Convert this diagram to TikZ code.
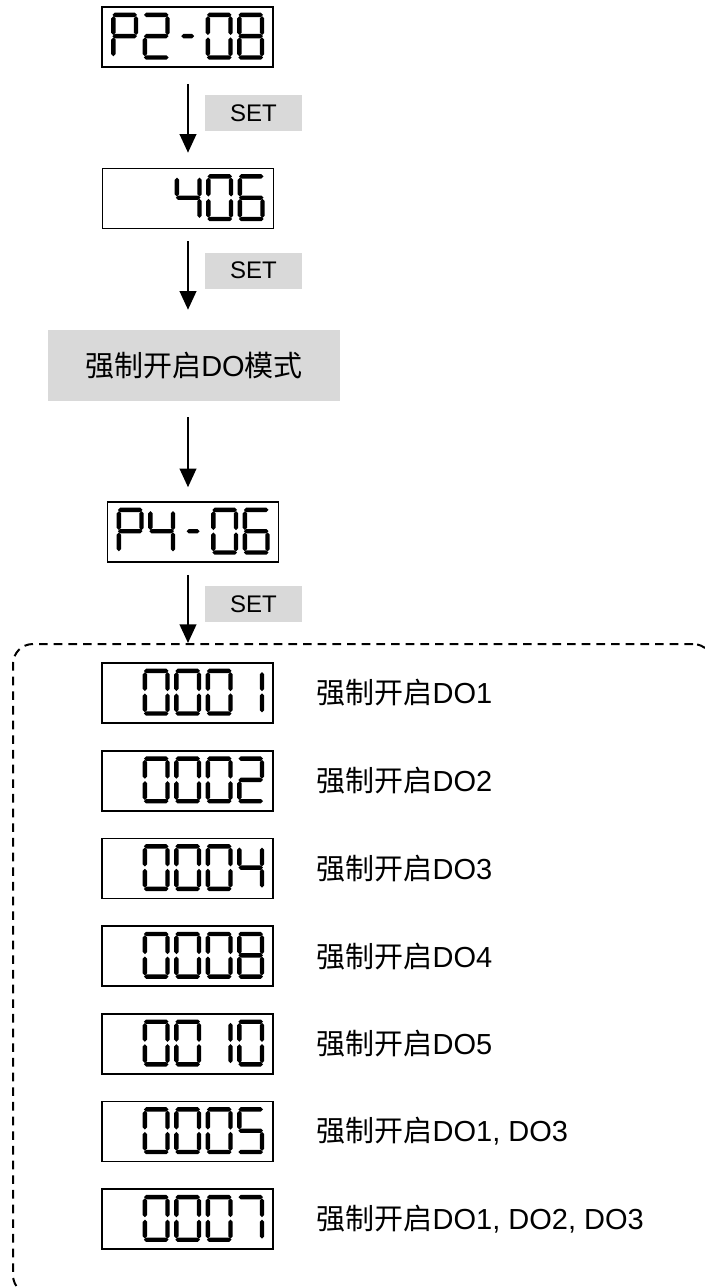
\documentclass[tikz,border=0pt]{standalone}
\usepackage{fontspec}
\setmainfont{Liberation Sans}
\newfontfamily\cjk{Noto Sans CJK SC}
\usetikzlibrary{arrows.meta, positioning}

\definecolor{keygray}{HTML}{D9D9D9}
\newcommand\zh[1]{{\cjk #1}}

% seven-segment geometry (in px of the picture)
\def\segt{2.2}\def\segw{27}\def\segh{47}\def\segg{1.2}
\newcommand\lcdh[3]{\fill (#1,#3) -- (#1+\segt,#3-\segt) -- (#2-\segt,#3-\segt) -- (#2,#3) -- (#2-\segt,#3+\segt) -- (#1+\segt,#3+\segt) -- cycle;}
\newcommand\lcdv[3]{\fill (#1,#2) -- (#1+\segt,#2+\segt) -- (#1+\segt,#3-\segt) -- (#1,#3) -- (#1-\segt,#3-\segt) -- (#1-\segt,#2+\segt) -- cycle;}
\newcommand\lcdsega{\lcdh{\segg}{\segw-\segg}{\segt}}
\newcommand\lcdsegb{\lcdv{\segw-\segt}{\segt+\segg}{\segh/2-\segg}}
\newcommand\lcdsegc{\lcdv{\segw-\segt}{\segh/2+\segg}{\segh-\segt-\segg}}
\newcommand\lcdsegd{\lcdh{\segg}{\segw-\segg}{\segh-\segt}}
\newcommand\lcdsege{\lcdv{\segt}{\segh/2+\segg}{\segh-\segt-\segg}}
\newcommand\lcdsegf{\lcdv{\segt}{\segt+\segg}{\segh/2-\segg}}
\newcommand\lcdsegg{\lcdh{\segg}{\segw-\segg}{\segh/2}}
\newcommand\lcdsegm{\lcdh{7}{\segw-7}{\segh/2}}

% digits as segment lists
\def\lcdBlank{x}
\def\lcdZero{a,b,c,d,e,f}
\def\lcdOne{b,c}
\def\lcdTwo{a,b,g,e,d}
\def\lcdFour{f,g,b,c}
\def\lcdFive{a,f,g,c,d}
\def\lcdSix{a,f,g,e,c,d}
\def\lcdSeven{a,b,c}
\def\lcdEight{a,b,c,d,e,f,g}
\def\lcdP{a,b,f,g,e}
\def\lcdDash{m}

% one digit in slot #2 of display #1
\newcommand\lcddigit[3]{%
  \begin{scope}[shift={(#1.north west)}, shift={(10+#2*31.5,6.5)}]
    \foreach \s in #3 {\csname lcdseg\s\endcsname}
  \end{scope}}
% display: name, position, five slots
\newcommand\showlcd[7]{%
  \node[display] (#1) at #2 {};
  \lcddigit{#1}{0}{#3}\lcddigit{#1}{1}{#4}\lcddigit{#1}{2}{#5}%
  \lcddigit{#1}{3}{#6}\lcddigit{#1}{4}{#7}}

\begin{document}
\begin{tikzpicture}[
    x=0.75pt, y=-0.75pt,
    % Styles
    display/.style={
        rectangle, draw, line width=1.2pt, inner sep=0pt,
        minimum width=128.25pt, minimum height=45pt
    },
    setkey/.style={
        rectangle, fill=keygray, inner sep=0pt,
        minimum width=72.75pt, minimum height=27pt,
        font=\fontsize{18}{20}\selectfont
    },
    modebox/.style={
        rectangle, fill=keygray, inner sep=0pt,
        minimum width=219pt, minimum height=53.25pt,
        font=\fontsize{21.75}{24}\selectfont
    },
    remark/.style={
        inner sep=0pt, font=\fontsize{21.75}{24}\selectfont
    },
    frame/.style={
        rectangle, draw, line width=1.5pt, dash pattern=on 6.5pt off 4.5pt,
        rounded corners=15pt, inner sep=0pt,
        minimum width=525pt, minimum height=488.25pt
    },
    flow/.style={
        -{Triangle[length=14pt, width=12.5pt]}, line width=1.5pt
    }
]
\useasboundingbox (0,0) rectangle (704,1288);

% ── Parameter selection ─────────────────────────────────────────────────────
\showlcd{p208}{(187.5,37)}{\lcdP}{\lcdTwo}{\lcdDash}{\lcdZero}{\lcdEight}
\showlcd{v406}{(188,198.5)}{\lcdBlank}{\lcdBlank}{\lcdFour}{\lcdZero}{\lcdSix}
\node[modebox] (mode) at (194,365.5) {\zh{强制开启}DO\zh{模式}};
\showlcd{p406}{(193,532)}{\lcdP}{\lcdFour}{\lcdDash}{\lcdZero}{\lcdSix}

\node[setkey] (set1) at (253.5,113) {SET};
\node[setkey] (set2) at (253.5,270.5) {SET};
\node[setkey] (set3) at (253.5,604) {SET};

% ── Output values ───────────────────────────────────────────────────────────
\node[frame] (values) at (363,969.5) {};

\showlcd{o1}{(187.5,693)}{\lcdBlank}{\lcdZero}{\lcdZero}{\lcdZero}{\lcdOne}
\showlcd{o2}{(187.5,780.7)}{\lcdBlank}{\lcdZero}{\lcdZero}{\lcdZero}{\lcdTwo}
\showlcd{o3}{(187.5,868.4)}{\lcdBlank}{\lcdZero}{\lcdZero}{\lcdZero}{\lcdFour}
\showlcd{o4}{(187.5,956.1)}{\lcdBlank}{\lcdZero}{\lcdZero}{\lcdZero}{\lcdEight}
\showlcd{o5}{(187.5,1043.8)}{\lcdBlank}{\lcdZero}{\lcdZero}{\lcdOne}{\lcdZero}
\showlcd{o6}{(187.5,1131.5)}{\lcdBlank}{\lcdZero}{\lcdZero}{\lcdZero}{\lcdFive}
\showlcd{o7}{(187.5,1219.2)}{\lcdBlank}{\lcdZero}{\lcdZero}{\lcdZero}{\lcdSeven}

\node[remark, right=32pt of o1] (t1) {\zh{强制开启}DO1};
\node[remark, right=32pt of o2] (t2) {\zh{强制开启}DO2};
\node[remark, right=32pt of o3] (t3) {\zh{强制开启}DO3};
\node[remark, right=32pt of o4] (t4) {\zh{强制开启}DO4};
\node[remark, right=32pt of o5] (t5) {\zh{强制开启}DO5};
\node[remark, right=32pt of o6] (t6) {\zh{强制开启}DO1, DO3};
\node[remark, right=32pt of o7] (t7) {\zh{强制开启}DO1, DO2, DO3};

% ── Arrows ──────────────────────────────────────────────────────────────────
\coordinate (axis) at (188,0);
\draw[flow, shorten <=12pt, shorten >=11.25pt] (p208.south -| axis) -- (v406.north -| axis);
\draw[flow, shorten <=9pt, shorten >=15pt] (v406.south -| axis) -- (mode.north -| axis);
\draw[flow, shorten <=12pt, shorten >=10.5pt] (mode.south -| axis) -- (p406.north -| axis);
\draw[flow, shorten <=9pt] (p406.south -| axis) -- (values.north -| axis);

\end{tikzpicture}
\end{document}
